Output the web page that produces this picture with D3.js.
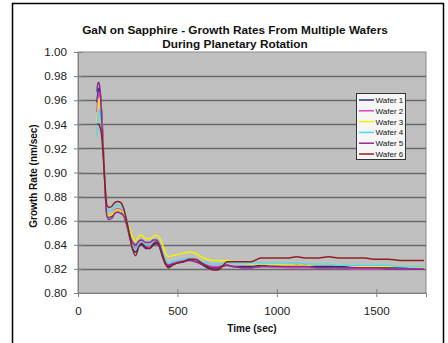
<!DOCTYPE html>
<html><head><meta charset="utf-8">
<script src="https://cdn.jsdelivr.net/npm/d3@7"></script>
<style>
html,body{margin:0;padding:0;background:#fff;}
svg{display:block;font-family:"Liberation Sans",Arial,sans-serif;}
</style></head>
<body>
<svg id="chart" width="448" height="343"></svg>
<script>
const titleLines = ["GaN on Sapphire - Growth Rates From Multiple Wafers", "During Planetary Rotation"];
const xTitle = "Time (sec)";
const yTitle = "Growth Rate (nm/sec)";
const xTicks = [0, 500, 1000, 1500];
const yTicks = [0.80, 0.82, 0.84, 0.86, 0.88, 0.90, 0.92, 0.94, 0.96, 0.98, 1.00];
const seriesNames = ["Wafer 1", "Wafer 2", "Wafer 3", "Wafer 4", "Wafer 5", "Wafer 6"];
const seriesColors = ["#2a2a82", "#e040c8", "#f2f200", "#55d6ea", "#8e2c8e", "#8e2222"];

const time = [95,100,105,110,115,122,130,138,145,155,170,185,200,215,230,245,260,275,290,305,320,340,360,380,395,410,425,440,455,475,500,530,560,590,620,650,680,700,720,750,780,820,870,920,980,1050,1100,1150,1200,1260,1320,1380,1440,1500,1560,1620,1680,1740];

const wafer1 = [0.958,0.966,0.970,0.968,0.960,0.940,0.910,0.882,0.866,0.863,0.864,0.868,0.869,0.868,0.865,0.857,0.846,0.837,0.834,0.839,0.840,0.837,0.837,0.840,0.841,0.838,0.830,0.824,0.822,0.824,0.825,0.826,0.828,0.827,0.824,0.821,0.820,0.820,0.822,0.823,0.822,0.822,0.822,0.823,0.822,0.822,0.823,0.822,0.822,0.822,0.822,0.821,0.821,0.821,0.821,0.821,0.820,0.820];
const wafer2 = [0.950,0.960,0.966,0.965,0.958,0.938,0.910,0.884,0.867,0.864,0.865,0.869,0.870,0.869,0.866,0.858,0.848,0.840,0.837,0.841,0.842,0.839,0.839,0.842,0.843,0.839,0.832,0.825,0.823,0.825,0.826,0.827,0.828,0.827,0.825,0.823,0.822,0.822,0.822,0.823,0.822,0.821,0.821,0.822,0.822,0.821,0.821,0.821,0.821,0.821,0.821,0.820,0.820,0.820,0.820,0.820,0.820,0.820];
const wafer3 = [0.942,0.950,0.960,0.962,0.955,0.935,0.910,0.885,0.868,0.864,0.865,0.868,0.869,0.868,0.866,0.860,0.852,0.846,0.843,0.847,0.848,0.845,0.845,0.847,0.848,0.846,0.840,0.833,0.830,0.831,0.832,0.833,0.834,0.833,0.830,0.828,0.827,0.827,0.827,0.827,0.826,0.825,0.824,0.824,0.824,0.823,0.823,0.823,0.824,0.824,0.823,0.823,0.822,0.822,0.822,0.822,0.822,0.821];
const wafer4 = [0.930,0.945,0.952,0.950,0.945,0.930,0.908,0.885,0.870,0.868,0.869,0.872,0.873,0.872,0.868,0.859,0.848,0.839,0.836,0.841,0.843,0.840,0.840,0.843,0.844,0.841,0.834,0.827,0.825,0.826,0.827,0.828,0.829,0.828,0.826,0.825,0.824,0.824,0.824,0.825,0.825,0.825,0.825,0.825,0.825,0.825,0.825,0.824,0.824,0.824,0.823,0.823,0.823,0.823,0.823,0.822,0.822,0.822];
const wafer5 = [0.967,0.974,0.975,0.970,0.958,0.935,0.908,0.880,0.864,0.861,0.862,0.866,0.867,0.866,0.864,0.857,0.848,0.842,0.840,0.843,0.844,0.842,0.842,0.844,0.844,0.840,0.832,0.825,0.823,0.824,0.825,0.826,0.827,0.826,0.824,0.822,0.821,0.821,0.822,0.823,0.822,0.821,0.821,0.822,0.822,0.822,0.822,0.822,0.821,0.821,0.821,0.821,0.821,0.821,0.820,0.820,0.820,0.820];
const wafer6 = [0.940,0.940,0.940,0.938,0.935,0.925,0.905,0.885,0.873,0.871,0.872,0.875,0.876,0.875,0.870,0.860,0.848,0.836,0.831,0.838,0.841,0.838,0.837,0.841,0.842,0.839,0.831,0.824,0.821,0.823,0.825,0.826,0.828,0.828,0.825,0.822,0.819,0.819,0.821,0.826,0.826,0.826,0.826,0.829,0.829,0.829,0.830,0.829,0.829,0.830,0.829,0.829,0.829,0.828,0.828,0.827,0.827,0.827];
const allSeries = [wafer1, wafer2, wafer3, wafer4, wafer5, wafer6];

const svg = d3.select("#chart");
const plot = {left: 78, right: 426, top: 52, bottom: 293};

// outer chart border
svg.append("rect").attr("x", 12.5).attr("y", 3.5).attr("width", 431).attr("height", 360)
  .attr("fill", "#fff").attr("stroke", "#000").attr("stroke-width", 1.5);

const x = d3.scaleLinear().domain([0, 1750]).range([plot.left, plot.right]);
const y = d3.scaleLinear().domain([0.80, 1.00]).range([plot.bottom, plot.top]);

// plot background
svg.append("rect").attr("x", plot.left).attr("y", plot.top)
  .attr("width", plot.right - plot.left).attr("height", plot.bottom - plot.top)
  .attr("fill", "#c0c0c0").attr("stroke", "#8a8a8a").attr("stroke-width", 1);

// gridlines
svg.append("g").selectAll("line").data(yTicks.slice(1, -1)).join("line")
  .attr("x1", plot.left).attr("x2", plot.right)
  .attr("y1", d => Math.round(y(d)) + 0.5).attr("y2", d => Math.round(y(d)) + 0.5)
  .attr("stroke", "#6a6a6a").attr("stroke-width", 1.3);

// series
const clipId = "plotclip";
svg.append("clipPath").attr("id", clipId).append("rect")
  .attr("x", plot.left).attr("y", plot.top).attr("width", plot.right - plot.left).attr("height", plot.bottom - plot.top);
const line = d3.line().x((d, i) => x(time[i])).y(d => y(d)).curve(d3.curveMonotoneX);
const gLines = svg.append("g").attr("clip-path", `url(#${clipId})`);
allSeries.forEach((s, k) => {
  gLines.append("path").datum(s).attr("d", line)
    .attr("fill", "none").attr("stroke", seriesColors[k]).attr("stroke-width", 1.5)
    .attr("stroke-linejoin", "round");
});

// axes
const yAxis = d3.axisLeft(y).tickValues(yTicks).tickFormat(d3.format(".2f")).tickSize(4).tickPadding(7);
const gy = svg.append("g").attr("transform", `translate(${plot.left},0)`).call(yAxis);
gy.select(".domain").attr("stroke", "#808080");
gy.selectAll(".tick line").attr("x1", -4).attr("x2", 4).attr("stroke", "#808080");
gy.selectAll(".tick text").attr("font-size", "11.7px").attr("fill", "#222")
  .attr("font-family", "Liberation Sans, Arial, sans-serif");

const xAxis = d3.axisBottom(x).tickValues(xTicks).tickFormat(d3.format("d")).tickSize(4).tickPadding(10);
const gx = svg.append("g").attr("transform", `translate(0,${plot.bottom})`).call(xAxis);
gx.select(".domain").attr("stroke", "#808080");
gx.selectAll(".tick line").attr("y1", -4).attr("y2", 4).attr("stroke", "#808080");
gx.selectAll(".tick text").attr("font-size", "11.7px").attr("fill", "#222")
  .attr("font-family", "Liberation Sans, Arial, sans-serif");

// titles
svg.append("text").attr("x", 235).attr("y", 33.5).attr("text-anchor", "middle")
  .attr("font-size", "11.8px").attr("font-weight", "bold").attr("fill", "#111").text(titleLines[0]);
svg.append("text").attr("x", 235).attr("y", 48).attr("text-anchor", "middle")
  .attr("font-size", "11.8px").attr("font-weight", "bold").attr("fill", "#111").text(titleLines[1]);
svg.append("text").attr("x", (plot.left + plot.right) / 2).attr("y", 332).attr("text-anchor", "middle")
  .attr("font-size", "10px").attr("font-weight", "bold").attr("fill", "#111").text(xTitle);
svg.append("text").attr("transform", `translate(37,176) rotate(-90)`).attr("text-anchor", "middle")
  .attr("font-size", "10px").attr("font-weight", "bold").attr("fill", "#111").text(yTitle);

// legend
const lg = svg.append("g");
lg.append("rect").attr("x", 356.5).attr("y", 93.5).attr("width", 49).attr("height", 66)
  .attr("fill", "#f6f6f6").attr("stroke", "#333").attr("stroke-width", 1);
seriesNames.forEach((n, k) => {
  const yy = 100 + k * 10.8;
  lg.append("line").attr("x1", 359).attr("x2", 374).attr("y1", yy).attr("y2", yy)
    .attr("stroke", seriesColors[k]).attr("stroke-width", 1.5);
  lg.append("text").attr("x", 375.5).attr("y", yy + 3).attr("font-size", "8px")
    .attr("fill", "#111").text(n);
});
</script>
</body></html>
